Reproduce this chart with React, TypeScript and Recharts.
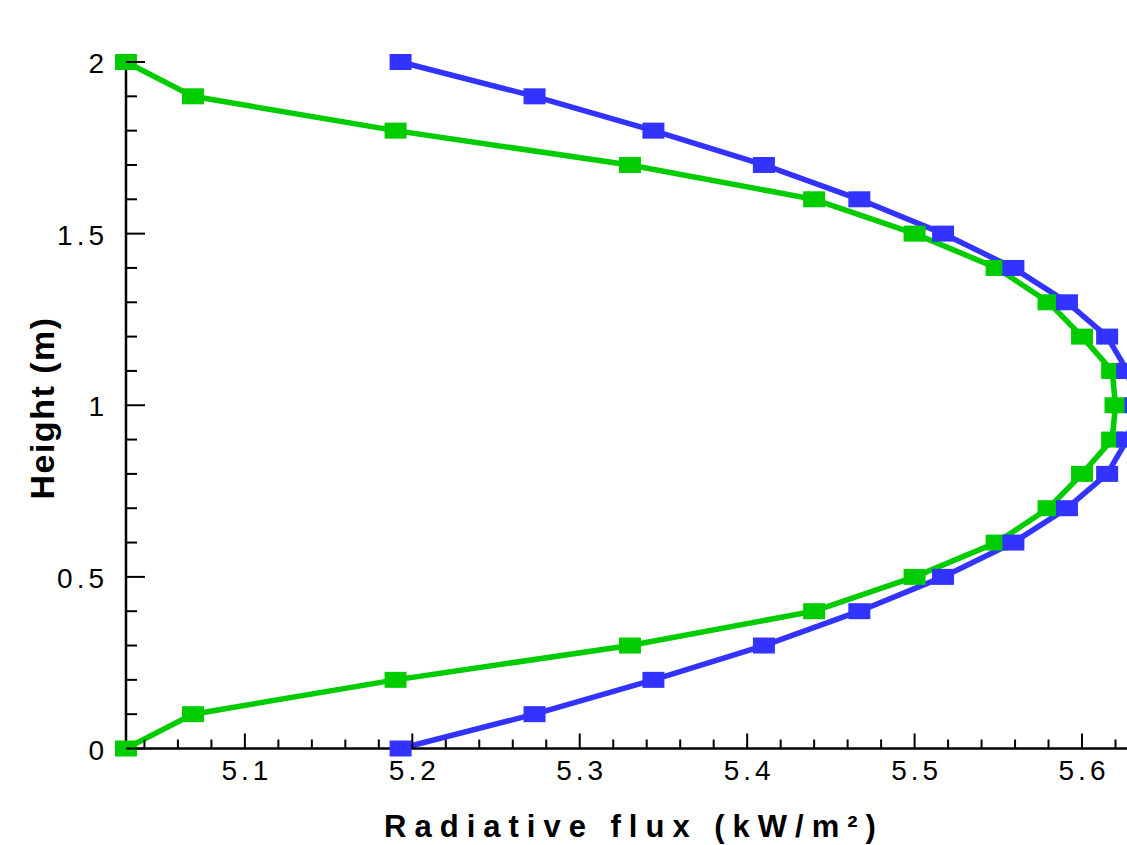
import React from 'react';
import { LineChart, Line, XAxis, YAxis } from 'recharts';

// heights (m) and radiative flux (kW/m²)
const heights = [0, 0.1, 0.2, 0.3, 0.4, 0.5, 0.6, 0.7, 0.8, 0.9, 1.0, 1.1, 1.2, 1.3, 1.4, 1.5, 1.6, 1.7, 1.8, 1.9, 2.0];
const greenFlux = [5.029, 5.069, 5.19, 5.33, 5.44, 5.5, 5.549, 5.58, 5.6, 5.618, 5.62, 5.618, 5.6, 5.58, 5.549, 5.5, 5.44, 5.33, 5.19, 5.069, 5.029];
const blueFlux = [5.193, 5.273, 5.344, 5.41, 5.467, 5.517, 5.559, 5.591, 5.615, 5.627, 5.632, 5.627, 5.615, 5.591, 5.559, 5.517, 5.467, 5.41, 5.344, 5.273, 5.193];

const xTicks = [5.04, 5.06, 5.08, 5.1, 5.12, 5.14, 5.16, 5.18, 5.2, 5.22, 5.24, 5.26, 5.28, 5.3, 5.32, 5.34, 5.36, 5.38, 5.4, 5.42, 5.44, 5.46, 5.48, 5.5, 5.52, 5.54, 5.56, 5.58, 5.6, 5.62];
const yTicks = [0, 0.1, 0.2, 0.3, 0.4, 0.5, 0.6, 0.7, 0.8, 0.9, 1.0, 1.1, 1.2, 1.3, 1.4, 1.5, 1.6, 1.7, 1.8, 1.9, 2.0];

const GREEN = '#00cc00';
const BLUE = '#3333ff';
const FONT = '"Liberation Sans", Arial, Helvetica, sans-serif';

const greenData = heights.map((h, i) => ({ flux: greenFlux[i], height: h }));
const blueData = heights.map((h, i) => ({ flux: blueFlux[i], height: h }));

const isMultiple = (v: number, step: number) => Math.abs(v / step - Math.round(v / step)) < 1e-6;

const Y_MARGIN = 18;

function YTick(props: any) {
  const { x, y, payload } = props;
  const v = payload.value as number;
  const major = isMultiple(v, 0.5);
  const ax = x + Y_MARGIN;
  return (
    <g>
      <line x1={ax} x2={ax + (major ? 19 : 11)} y1={y} y2={y} stroke="#000" strokeWidth={2} />
      {major && (
        <text x={x} y={y + 11} textAnchor="end" fontFamily={FONT} fontSize={28} letterSpacing={4} fill="#000">
          {String(Math.round(v * 10) / 10)}
        </text>
      )}
    </g>
  );
}

function XTick(props: any) {
  const { x, y, payload } = props;
  const v = payload.value as number;
  const major = isMultiple(v, 0.1);
  return (
    <g>
      <line x1={x} x2={x} y1={y} y2={y - (major ? 15 : 9)} stroke="#000" strokeWidth={2} />
      {major && (
        <text x={x + 2} y={y + 31} textAnchor="middle" fontFamily={FONT} fontSize={28} letterSpacing={4} fill="#000">
          {(Math.round(v * 10) / 10).toFixed(1)}
        </text>
      )}
    </g>
  );
}

const squareDot = (color: string) => (props: any) => {
  const { cx, cy, index } = props;
  return <rect key={`d-${index}`} x={cx - 11} y={cy - 8} width={22} height={16} fill={color} />;
};

export default function App() {
  return (
    <div style={{ position: 'absolute', left: 0, top: 0, width: 1127, height: 845, overflow: 'hidden', background: '#fff' }}>
      <LineChart width={1180} height={845} margin={{ top: 62, right: 31, bottom: 0, left: 0 }}>
        <XAxis
          type="number"
          dataKey="flux"
          domain={[5.029, 5.64]}
          ticks={xTicks}
          interval={0}
          tick={<XTick />}
          tickSize={0}
          tickMargin={0}
          height={96.5}
          axisLine={{ stroke: '#000', strokeWidth: 2.5 }}
          tickLine={false}
          label={{
            content: () => (
              <text
                x={634}
                y={837}
                textAnchor="middle"
                fontFamily={FONT}
                fontWeight="bold"
                fontSize={31}
                letterSpacing={8}
                fill="#000"
              >
                Radiative flux (kW/m²)
              </text>
            ),
          }}
        />
        <YAxis
          type="number"
          dataKey="height"
          domain={[0, 2]}
          ticks={yTicks}
          interval={0}
          tick={<YTick />}
          tickSize={0}
          tickMargin={Y_MARGIN}
          width={126}
          axisLine={{ stroke: '#000', strokeWidth: 2.5 }}
          tickLine={false}
          label={{
            content: () => (
              <text
                transform="translate(54,408) rotate(-90)"
                textAnchor="middle"
                fontFamily={FONT}
                fontWeight="bold"
                fontSize={34}
                letterSpacing={1.5}
                fill="#000"
              >
                Height (m)
              </text>
            ),
          }}
        />
        <Line
          data={greenData}
          dataKey="height"
          type="linear"
          stroke={GREEN}
          strokeWidth={5.5}
          dot={squareDot(GREEN)}
          activeDot={false}
          isAnimationActive={false}
        />
        <Line
          data={blueData}
          dataKey="height"
          type="linear"
          stroke={BLUE}
          strokeWidth={5.5}
          dot={squareDot(BLUE)}
          activeDot={false}
          isAnimationActive={false}
        />
      </LineChart>
    </div>
  );
}
